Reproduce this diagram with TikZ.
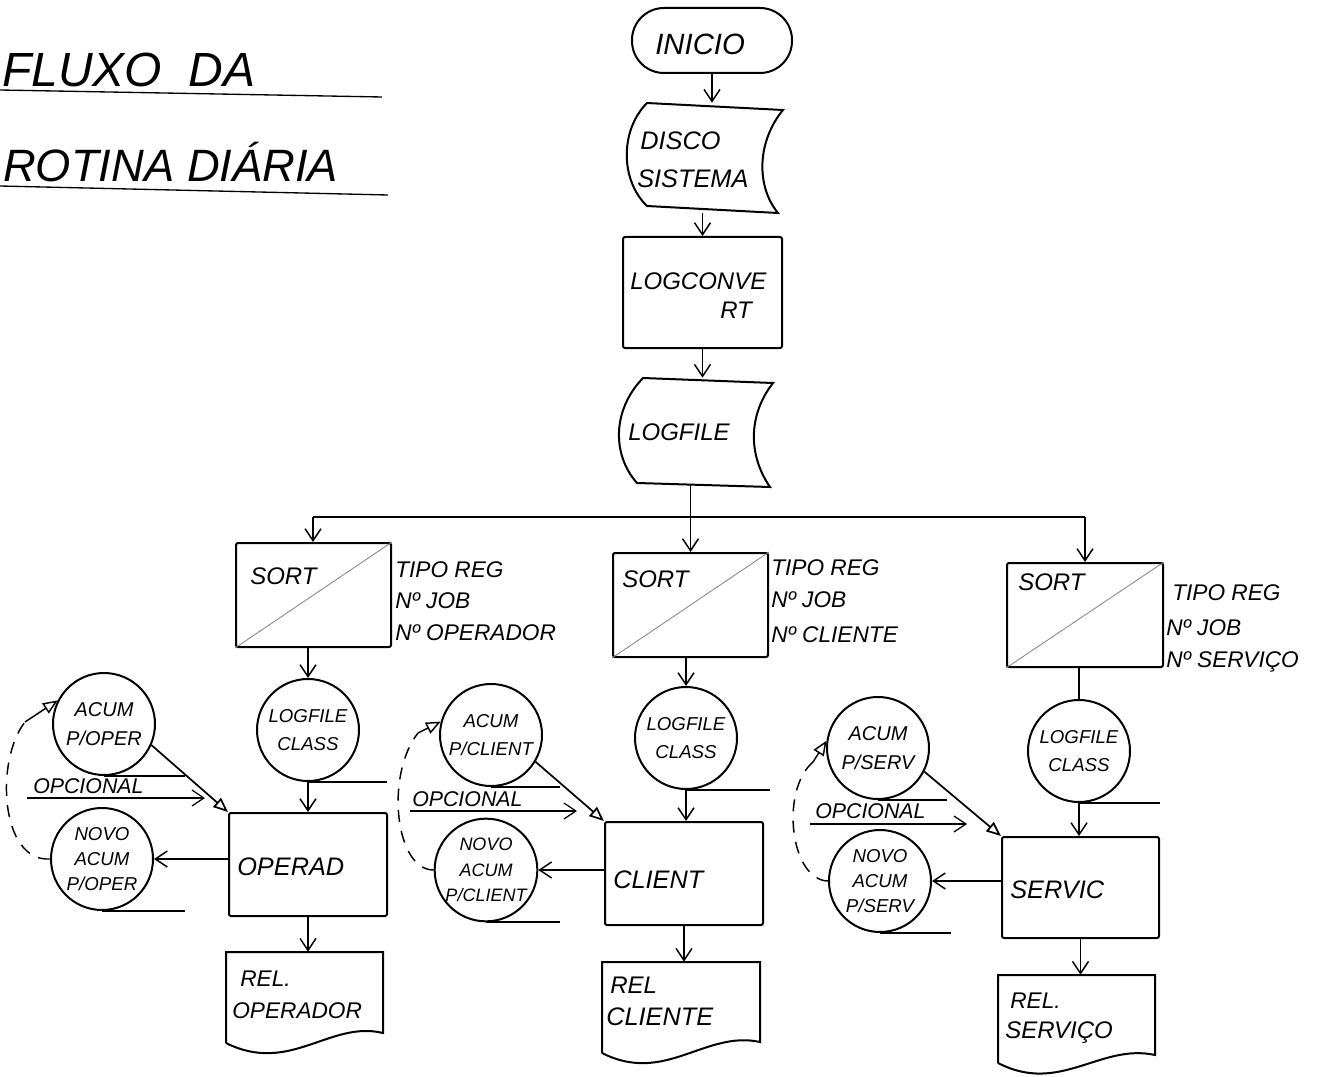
\documentclass[tikz,border=0pt]{standalone}
\usepackage{fontspec}
\setmainfont{Liberation Sans}
\usetikzlibrary{arrows.meta,fit,calc}
\begin{document}
\begin{tikzpicture}[x=0.75pt,y=-0.75pt,
  ln/.style={line width=1.5pt},
  box/.style={draw, line width=1.5pt, inner sep=0pt, rounded corners=1.5pt},
  ghost/.style={inner sep=0pt},
  tape/.style={circle, draw, line width=1.5pt, inner sep=0pt, minimum size=76.5pt, align=center, font=\itshape\fontsize{14}{21}\selectfont},
  arr/.style={line width=1.1pt, -{Straight Barb[length=9pt,width=12pt]}},
  tri/.style={line width=1.3pt, -{Triangle[open,length=11pt,width=9pt]}},
  dsh/.style={line width=1.1pt, dash pattern=on 9pt off 7pt},
  diag/.style={line width=0.6pt, gray},
  txt/.style={inner sep=0pt, anchor=base west, font=\itshape\fontsize{18}{22}\selectfont},
  lbl/.style={inner sep=0pt, anchor=base west, font=\itshape\fontsize{17}{20}\selectfont},
  opc/.style={inner sep=0pt, anchor=base west, font=\itshape\fontsize{16}{20}\selectfont},
  ttl/.style={inner sep=0pt, anchor=base west, font=\itshape\fontsize{36}{40}\selectfont}
]
\useasboundingbox (0,0) rectangle (1336,1077);

% ---------- title ----------
\node[ttl] (title1) at (2,87) {FLUXO\ \ DA};
\draw[line width=1pt] (0,90) -- (382,97);
\node[ttl, font=\itshape\fontsize{34}{40}\selectfont] (title2) at (3,182) {ROTINA DIÁRIA};
\draw[line width=1pt] (0,186) -- (388,195);

% ---------- main trunk ----------
\node[box, rounded corners=24pt, fit={(632,8) (792,73)}] (ini) {};
\node[txt, font=\itshape\fontsize{22}{24}\selectfont] (t-ini) at (655,55) {INICIO};

\node[ghost, fit={(627,103) (783,213)}] (disco) {};
\draw[ln] (647,103) -- (783,110) .. controls (758,140) and (755,185) .. (778,213)
  -- (647,206) .. controls (620,180) and (620,130) .. (647,103) -- cycle;
\node[txt, font=\itshape\fontsize{19}{22}\selectfont] (t-disco1) at (640,150) {DISCO};
\node[txt, font=\itshape\fontsize{19}{22}\selectfont] (t-disco2) at (637,188) {SISTEMA};

\node[box, fit={(623,237) (782,348)}] (lc) {};
\node[txt] (t-lc1) at (630,290) {LOGCONVE};
\node[txt] (t-lc2) at (720,318) {RT};

\node[ghost, fit={(618,378) (773,485)}] (logf) {};
\draw[ln] (643,378) -- (773,383) .. controls (748,415) and (748,455) .. (770,487)
  -- (637,483) .. controls (612,455) and (612,410) .. (643,378) -- cycle;
\node[txt] (t-logf) at (628,440) {LOGFILE};

\draw[arr] (ini.south) -- (ini.south |- disco.north);
\draw[arr] (lc.north |- disco.south) -- (lc.north);
\draw[arr] (lc.south) -- (lc.south |- logf.north);

% ---------- sort boxes ----------
\node[box, fit={(236,543) (391,647)}] (sort1) {};
\node[box, fit={(613,553) (768,657)}] (sort2) {};
\node[box, fit={(1007,563) (1163,667)}] (sort3) {};
\draw[diag] (sort1.south west) -- (sort1.north east);
\draw[diag] (sort2.south west) -- (sort2.north east);
\draw[diag] (sort3.south west) -- (sort3.north east);
\node[txt] (t-s1) at (250,584) {SORT};
\node[txt] (t-s2) at (622,587) {SORT};
\node[txt] (t-s3) at (1018,590) {SORT};

% bus
\coordinate (busL) at (313,517);
\coordinate (busR) at (1085,517);
\draw[ln] (busL) -- (busR);
\draw[arr] (sort2.north |- logf.south) -- (sort2.north);
\draw[arr] (busL) -- (busL |- sort1.north);
\draw[arr] (busR) -- (busR |- sort3.north);

% sort keys
\node[lbl] (k1a) at (395,577) {TIPO REG};
\node[lbl] (k1b) at (395,608) {Nº JOB};
\node[lbl] (k1c) at (395,640) {Nº OPERADOR};
\node[lbl] (k2a) at (771,575) {TIPO REG};
\node[lbl] (k2b) at (771,607) {Nº JOB};
\node[lbl] (k2c) at (771,642) {Nº CLIENTE};
\node[lbl] (k3a) at (1172,600) {TIPO REG};
\node[lbl] (k3b) at (1166,635) {Nº JOB};
\node[lbl] (k3c) at (1166,667) {Nº SERVIÇO};

% ---------- column 1 ----------
\node[tape] (lf1) at (308,730) {LOGFILE\\CLASS};
\node[tape, font=\itshape\fontsize{15}{22}\selectfont] (acum1) at (104,724) {ACUM\\P/OPER};
\node[tape, font=\itshape\fontsize{14}{19}\selectfont] (novo1) at (102,859) {NOVO\\ACUM\\P/OPER};
\draw[ln] (lf1.south) -- ++(79,0);
\draw[ln] (acum1.south) -- ++(81,0);
\draw[ln] (novo1.south) -- ++(83,0);
\node[box, fit={(229,813) (387,916)}] (opr) {};
\node[txt, font=\itshape\fontsize{19}{22}\selectfont] (t-opr) at (237,875) {OPERAD};
\node[ghost, fit={(226,952) (383,1043)}] (rel1) {};
\draw[ln] (226,1043) -- (226,952) -- (383,952) -- (383,1033)
  .. controls (330,1020) and (290,1075) .. (226,1043);
\node[txt, font=\itshape\fontsize{17}{20}\selectfont] (t-rel1a) at (240,986) {REL.};
\node[txt, font=\itshape\fontsize{17}{20}\selectfont] (t-rel1b) at (232,1018) {OPERADOR};
\node[opc] (opc1) at (33,793) {OPCIONAL};
\coordinate (o1a) at (27,798);
\coordinate (o1b) at (205,798);
\coordinate (d1) at (25,722);

\draw[arr] (lf1.south |- sort1.south) -- (lf1.north);
\draw[arr] (lf1.south) -- (lf1.south |- opr.north);
\draw[arr] (opr.south) -- (opr.south |- rel1.north);
\draw[arr] (novo1.east -| opr.west) -- (novo1.east);
\draw[tri] (acum1.-24) -- (opr.north west);
\draw[arr, line width=0.9pt] (o1a) -- (o1b);
\draw[dsh] (novo1.west) .. controls (0,862) and (-5,760) .. (d1);
\draw[tri, line width=1.1pt] (d1) -- (acum1.153);

% ---------- column 2 ----------
\node[tape] (lf2) at (686,738) {LOGFILE\\CLASS};
\node[tape] (acum2) at (491,735) {ACUM\\P/CLIENT};
\node[tape, font=\itshape\fontsize{13.5}{19}\selectfont] (novo2) at (486,870) {NOVO\\ACUM\\P/CLIENT};
\draw[ln] (lf2.south) -- ++(84,0);
\draw[ln] (acum2.south) -- ++(69,0);
\draw[ln] (novo2.south) -- ++(74,0);
\node[box, fit={(605,822) (763,925)}] (cli) {};
\node[txt, font=\itshape\fontsize{19}{22}\selectfont] (t-cli) at (613,888) {CLIENT};
\node[ghost, fit={(602,962) (760,1053)}] (rel2) {};
\draw[ln] (602,1053) -- (602,962) -- (760,962) -- (760,1042)
  .. controls (705,1030) and (665,1085) .. (602,1053);
\node[txt, font=\itshape\fontsize{18}{20}\selectfont] (t-rel2a) at (610,993) {REL};
\node[txt, font=\itshape\fontsize{19}{20}\selectfont] (t-rel2b) at (606,1025) {CLIENTE};
\node[opc] (opc2) at (412,806) {OPCIONAL};
\coordinate (o2a) at (410,811);
\coordinate (o2b) at (577,811);
\coordinate (d2) at (418,733);

\draw[arr] (lf2.north |- sort2.south) -- (lf2.north);
\draw[arr] (lf2.south) -- (lf2.south |- cli.north);
\draw[arr] (cli.south) -- (cli.south |- rel2.north);
\draw[arr] (novo2.east -| cli.west) -- (novo2.east);
\draw[tri] (acum2.-31) -- (cli.north west);
\draw[arr, line width=0.9pt] (o2a) -- (o2b);
\draw[dsh] (novo2.west) .. controls (395,870) and (385,775) .. (d2);
\draw[tri, line width=1.1pt] (d2) -- (acum2.165);

% ---------- column 3 ----------
\node[tape] (lf3) at (1079,751) {LOGFILE\\CLASS};
\node[tape, font=\itshape\fontsize{15}{22}\selectfont] (acum3) at (878,748) {ACUM\\P/SERV};
\node[tape, font=\itshape\fontsize{14}{19}\selectfont] (novo3) at (880,881) {NOVO\\ACUM\\P/SERV};
\draw[ln] (lf3.south) -- ++(81,0);
\draw[ln] (acum3.south) -- ++(69,0);
\draw[ln] (novo3.south) -- ++(71,0);
\node[box, fit={(1002,837) (1159,938)}] (srv) {};
\node[txt, font=\itshape\fontsize{19}{22}\selectfont] (t-srv) at (1010,898) {SERVIC};
\node[ghost, fit={(998,975) (1155,1063)}] (rel3) {};
\draw[ln] (998,1063) -- (998,975) -- (1155,975) -- (1155,1055)
  .. controls (1100,1043) and (1060,1095) .. (998,1063);
\node[txt, font=\itshape\fontsize{17}{20}\selectfont] (t-rel3a) at (1010,1008) {REL.};
\node[txt] (t-rel3b) at (1005,1038) {SERVIÇO};
\node[opc] (opc3) at (815,818) {OPCIONAL};
\coordinate (o3a) at (810,824);
\coordinate (o3b) at (967,824);
\coordinate (d3) at (813,762);

\draw[line width=1.1pt] (lf3.north |- sort3.south) -- (lf3.north);
\draw[arr] (lf3.south) -- (lf3.south |- srv.north);
\draw[arr] (srv.south) -- (srv.south |- rel3.north);
\draw[arr] (novo3.east -| srv.west) -- (novo3.east);
\draw[tri] (acum3.-27) -- (srv.north west);
\draw[arr, line width=0.9pt] (o3a) -- (o3b);
\draw[dsh] (novo3.west) .. controls (790,880) and (780,790) .. (d3);
\draw[tri, line width=1.1pt] (d3) -- (acum3.172);
\end{tikzpicture}
\end{document}
